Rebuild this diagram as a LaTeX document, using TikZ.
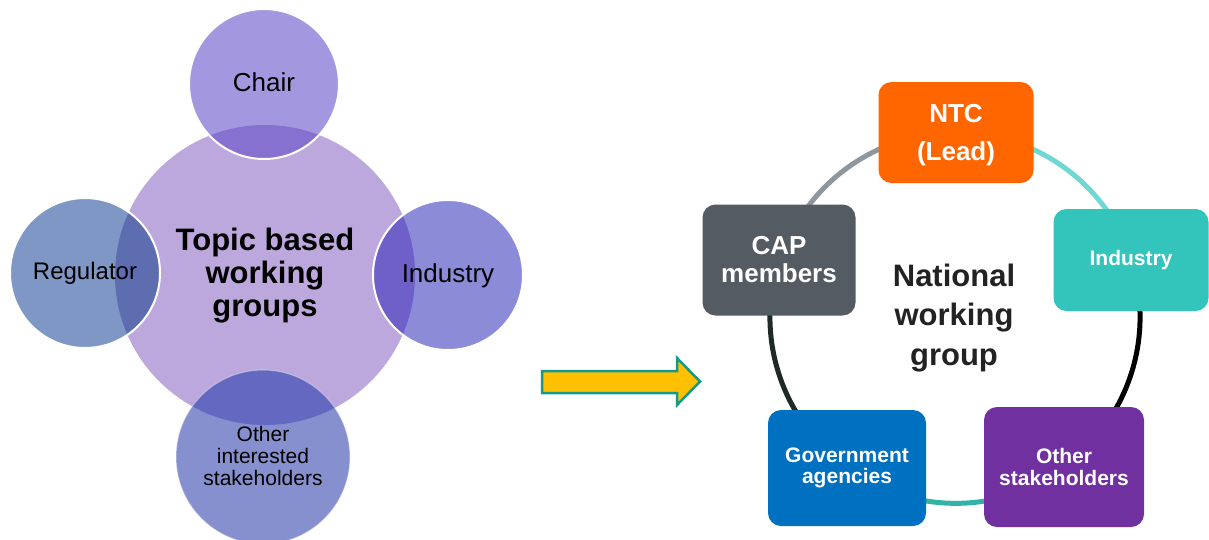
\documentclass[tikz,border=0pt]{standalone}
\usepackage{fontspec}
\setmainfont{Liberation Sans}
\usetikzlibrary{backgrounds}
% left cluster
\definecolor{hubfill}{HTML}{BDA8DE}
\definecolor{chairfill}{HTML}{A398E0}
\definecolor{chairlap}{HTML}{8670D0}
\definecolor{regfill}{HTML}{7F97C4}
\definecolor{reglap}{HTML}{5E6DB0}
\definecolor{indfill}{HTML}{8B8BD8}
\definecolor{indlap}{HTML}{6E60C8}
\definecolor{othfill}{HTML}{8690CE}
\definecolor{othlap}{HTML}{6468C0}
% arrow
\definecolor{arrowfill}{HTML}{FFC000}
\definecolor{arrowrim}{HTML}{16988A}
% right cycle
\definecolor{ntcfill}{HTML}{FF6600}
\definecolor{industryfill}{HTML}{33C4BC}
\definecolor{capfill}{HTML}{555B62}
\definecolor{govfill}{HTML}{0070C0}
\definecolor{stakefill}{HTML}{7030A0}
\definecolor{arcgray}{HTML}{8E979E}
\definecolor{arclight}{HTML}{6FD8D2}
\definecolor{arcdark}{HTML}{1F2A26}
\definecolor{arcteal}{HTML}{33B3A6}
\definecolor{hubtext}{HTML}{222222}
\begin{document}
\begin{tikzpicture}[x=1pt,y=-1pt,
  disc/.style={circle, inner sep=0pt, minimum size=#1, draw=none},
  rim/.style={draw=white, line width=2pt},
  ringarc/.style={line width=5pt},
  card/.style={rounded corners=13pt, text=white, align=center, inner sep=0pt},
  bodytext/.style={align=center, inner sep=0pt},
]
\useasboundingbox (0,0) rectangle (1209,539);

% ---------- topic based working groups ----------
\node[disc=300pt, fill=hubfill] (hub) at (265,275) {};
\node[disc=150pt, fill=chairfill] (chair) at (264,84) {};
\node[disc=150pt, fill=regfill] (reg) at (85,273) {};
\node[disc=150pt, fill=indfill] (ind) at (448,275) {};
\node[disc=174pt, fill=othfill] (oth) at (263,457) {};

% overlapping parts of the satellites
\begin{scope}
  \clip (chair.center) circle (75);
  \fill[chairlap] (hub.center) circle (150);
\end{scope}
\begin{scope}
  \clip (reg.center) circle (75);
  \fill[reglap] (hub.center) circle (150);
\end{scope}
\begin{scope}
  \clip (ind.center) circle (75);
  \fill[indlap] (hub.center) circle (150);
\end{scope}
\begin{scope}
  \clip (oth.center) circle (87);
  \fill[othlap] (hub.center) circle (150);
\end{scope}
\draw[rim] (chair.center) circle (75);
\draw[rim] (reg.center) circle (75);
\draw[rim] (ind.center) circle (75);
\draw[draw=white, draw opacity=0.4, line width=1pt] (oth.center) circle (87);

\node[bodytext, font=\fontsize{26}{30}\selectfont] (chairtxt) at (264,82) {Chair};
\node[bodytext, font=\fontsize{24}{28}\selectfont] (regtxt) at (85,273) {Regulator};
\node[bodytext, font=\fontsize{26}{30}\selectfont] (indtxt) at (448,276) {Industry};
\node[bodytext, font=\fontsize{21}{21.7}\selectfont] (othtxt) at (263,456) {Other\\interested\\stakeholders};
\node[bodytext, font=\bfseries\fontsize{31}{33}\selectfont] (hubtxt) at (265,276) {Topic based\\working\\groups};

% ---------- arrow ----------
\draw[draw=arrowrim, fill=arrowfill, line width=2.5pt, line join=miter]
  (542,371) -- (677,371) -- (677,358) -- (700,381.5) -- (677,405) -- (677,393) -- (542,393) -- cycle;

% ---------- national working group ----------
\node[card, fill=ntcfill, minimum width=155pt, minimum height=101pt] (ntc) at (956,132.5) {};
\node[bodytext, text=white, font=\bfseries\fontsize{26}{38}\selectfont] (ntctxt) at (956,135) {NTC\\(Lead)};
\node[card, fill=industryfill, minimum width=155pt, minimum height=102pt,
      font=\bfseries\fontsize{21}{24}\selectfont] (industry) at (1131,260) {Industry};
\node[card, fill=capfill, minimum width=153pt, minimum height=111pt,
      font=\bfseries\fontsize{26}{28}\selectfont] (cap) at (779,260) {CAP\\members};
\node[card, fill=govfill, minimum width=158pt, minimum height=116pt,
      font=\bfseries\fontsize{21}{21.5}\selectfont] (gov) at (847,468) {Government\\agencies};
\node[card, fill=stakefill, minimum width=160pt, minimum height=120pt,
      font=\bfseries\fontsize{21}{21.5}\selectfont] (stake) at (1064,467) {Other\\stakeholders};
\node[bodytext, text=hubtext, font=\bfseries\fontsize{31}{39.5}\selectfont] (nwg) at (954,318) {National\\working\\group};

\begin{scope}[on background layer]
  \draw[ringarc, draw=arcgray]  (ntc.center) arc[start angle=-90, end angle=-162, radius=185];
  \draw[ringarc, draw=arclight] (ntc.center) arc[start angle=-90, end angle=-18, radius=185];
  \draw[ringarc, draw=black]    (industry.center) arc[start angle=-18, end angle=54, radius=185];
  \draw[ringarc, draw=arcdark]  (cap.center) arc[start angle=-162, end angle=-234, radius=185];
  \draw[ringarc, draw=arcteal]  (gov.center) arc[start angle=126, end angle=54, radius=185];
\end{scope}
\end{tikzpicture}
\end{document}
